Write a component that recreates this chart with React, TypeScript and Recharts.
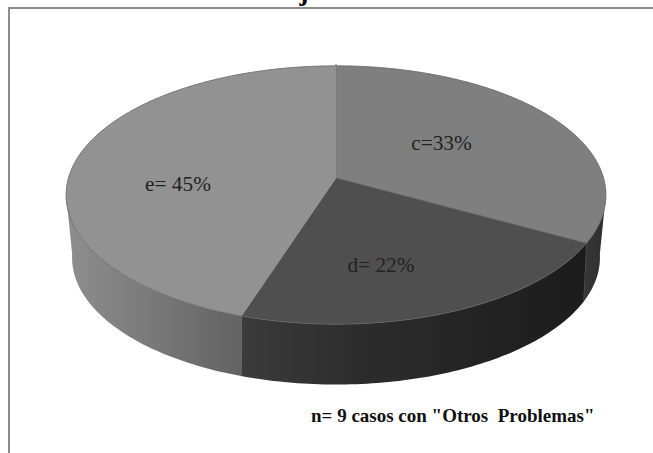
import React from 'react';
import { Pie, PieChart } from 'recharts';

const categories = ['c', 'd', 'e'];
const shares = [33, 22, 45];
const sliceLabels = ['c=33%', 'd= 22%', 'e= 45%'];
const topColors = ['#7f7f7f', '#4f4f4f', '#929292'];
const wallFills = ['url(#wallC)', 'url(#wallD)', 'url(#wallE)'];
const wallEdges = ['#555', '#6f6f6f', 'none'];

const chartData = categories.map((name, i) => ({ name, value: shares[i], fill: topColors[i] }));

const SERIF = '"Liberation Serif", serif';
const CX = 336;
const CY = 178;
const RADIUS = 267.5;

// the original is a perspective 3D pie: far side squeezed, near side stretched
const TILT = 0.4744;
const PERSP = 0.1318;
const WALL_PERSP = 0.16;
const WALL_SCALE = 0.974;
const WALL_DROP = 59.4;
const WALL_FROM = 97.6;
const WALL_TO = 262.4;

// label baselines, centred on the text
const labelSpots = [
    { x: 441.5, y: 150 },
    { x: 381, y: 272 },
    { x: 178, y: 191 },
];

const project = (cwDeg: number, r: number, cx: number, cy: number, persp: number) => {
    const t = (cwDeg * Math.PI) / 180;
    const u = Math.sin(t);
    const v = Math.cos(t);
    const w = 1 + persp * v;
    return [cx + (r * u) / w, cy - (r * TILT * v) / w];
};

const arcPoints = (from: number, to: number, r: number, cx: number, cy: number, persp: number) => {
    const pts: number[][] = [];
    const steps = Math.max(2, Math.ceil(Math.abs(to - from)));
    for (let i = 0; i <= steps; i++) {
        pts.push(project(from + ((to - from) * i) / steps, r, cx, cy, persp));
    }
    return pts;
};

const toPath = (pts: number[][]) =>
    pts.map((p, i) => `${i ? 'L' : 'M'}${p[0].toFixed(2)} ${p[1].toFixed(2)}`).join(' ');

const Slice3D = (props: any) => {
    const { cx, cy, outerRadius, startAngle, endAngle, fill, index } = props;
    const from = 90 - startAngle;
    const to = 90 - endAngle;
    const rim = arcPoints(from, to, outerRadius, cx, cy, PERSP);

    const wallStart = Math.max(from, WALL_FROM);
    const wallEnd = Math.min(to, WALL_TO);
    let wall = '';
    let edge = '';
    if (wallEnd > wallStart) {
        const upper = arcPoints(wallStart, wallEnd, outerRadius, cx, cy, PERSP);
        const lower = arcPoints(wallEnd, wallStart, outerRadius * WALL_SCALE, cx, cy + WALL_DROP, WALL_PERSP);
        wall = `${toPath(upper)} ${toPath(lower).replace('M', 'L')} Z`;
        // seam on the near end of the wall
        const a = upper[upper.length - 1];
        const b = lower[0];
        edge = `M${a[0]} ${a[1]} L${b[0]} ${b[1]}`;
    }

    return (
        <g>
            {wall && <path d={wall} fill={wallFills[index]} />}
            {edge && <path d={edge} fill="none" stroke={wallEdges[index]} strokeWidth={1} />}
            <path d={`M${cx} ${cy} ${toPath(rim).replace('M', 'L')} Z`} fill={fill} stroke={fill} strokeWidth={0.5} />
            <path d={toPath(rim)} fill="none" stroke="#666" strokeWidth={0.7} />
            {index === 0 && (
                <path d={`M${cx} ${cy} L${rim[0][0]} ${rim[0][1] - 2}`} fill="none" stroke="#6a6a6a" strokeWidth={1} />
            )}
        </g>
    );
};

const renderLabel = ({ index }: any) => (
    <text
        x={labelSpots[index].x}
        y={labelSpots[index].y}
        textAnchor="middle"
        fontFamily={SERIF}
        fontSize={21.3}
        fill="#222"
    >
        {sliceLabels[index]}
    </text>
);

export default function App() {
    return (
        <div style={{ position: 'absolute', left: 0, top: 0, width: 653, height: 453, overflow: 'hidden', background: '#fff' }}>
            <div
                style={{
                    position: 'absolute',
                    left: 8,
                    top: 7,
                    width: 800,
                    height: 600,
                    border: '2px solid #8c8c8c',
                }}
            />
            <div
                style={{
                    position: 'absolute',
                    right: 202,
                    top: -24,
                    whiteSpace: 'nowrap',
                    fontFamily: SERIF,
                    fontWeight: 'bold',
                    fontSize: 27,
                    lineHeight: '31px',
                }}
            >
                Reformas Tratadas del Consejo de Escuela
            </div>
            <PieChart width={653} height={453} margin={{ top: 0, right: 0, bottom: 0, left: 0 }} style={{ position: 'absolute' }}>
                <defs>
                    <linearGradient id="wallE" gradientUnits="userSpaceOnUse" x1={66} y1={0} x2={243} y2={0}>
                        <stop offset="0%" stopColor="#8e8e8e" />
                        <stop offset="100%" stopColor="#626262" />
                    </linearGradient>
                    <linearGradient id="wallD" gradientUnits="userSpaceOnUse" x1={243} y1={0} x2={582} y2={0}>
                        <stop offset="0%" stopColor="#3b3b3b" />
                        <stop offset="35%" stopColor="#2c2c2c" />
                        <stop offset="100%" stopColor="#1c1c1c" />
                    </linearGradient>
                    <linearGradient id="wallC" gradientUnits="userSpaceOnUse" x1={582} y1={0} x2={606} y2={0}>
                        <stop offset="0%" stopColor="#383838" />
                        <stop offset="100%" stopColor="#2e2e2e" />
                    </linearGradient>
                </defs>
                <Pie
                    data={chartData}
                    dataKey="value"
                    nameKey="name"
                    cx={CX}
                    cy={CY}
                    innerRadius={0}
                    outerRadius={RADIUS}
                    startAngle={90}
                    endAngle={-270}
                    stroke="none"
                    shape={Slice3D}
                    label={renderLabel}
                    labelLine={false}
                    isAnimationActive={false}
                />
                <text
                    x={311}
                    y={422}
                    fontFamily={SERIF}
                    fontWeight="bold"
                    fontSize={19}
                    fill="#111"
                    style={{ whiteSpace: 'pre' }}
                >
                    {'n= 9 casos con "Otros  Problemas"'}
                </text>
            </PieChart>
        </div>
    );
}
